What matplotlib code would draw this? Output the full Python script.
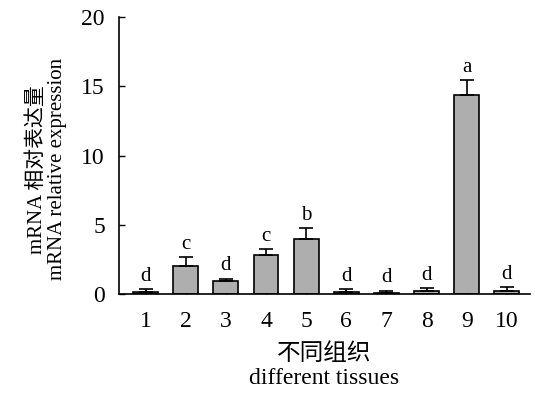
import matplotlib
matplotlib.use("Agg")
import matplotlib.pyplot as plt
import numpy as np

plt.rcParams['font.family'] = ['Liberation Serif', 'Noto Sans CJK SC']

categories = ['1', '2', '3', '4', '5', '6', '7', '8', '9', '10']
values = [0.15, 2.05, 0.95, 2.8, 3.95, 0.15, 0.1, 0.2, 14.35, 0.25]
errors = [0.2, 0.6, 0.15, 0.45, 0.8, 0.2, 0.15, 0.2, 1.1, 0.25]
letters = ['d', 'c', 'd', 'c', 'b', 'd', 'd', 'd', 'a', 'd']

fig = plt.figure(figsize=(5.35, 4.0), dpi=100)
ax = fig.add_axes([0.222, 0.265, 0.768, 0.6925])

x = np.arange(1, len(categories) + 1)
ax.bar(x, values, width=0.62, color='#aeaeae', edgecolor='black', linewidth=1.2, zorder=2)
ax.errorbar(x, values, yerr=[np.zeros(len(errors)), errors], fmt='none',
            ecolor='black', elinewidth=1.2, capsize=5, capthick=1.2, zorder=3)
for xi, v, e, l in zip(x, values, errors, letters):
    ax.text(xi, v + e + 0.25, l, ha='center', va='bottom', fontsize=15)

ax.set_xlim(0.33, 10.57)
ax.set_ylim(0, 20)
ax.set_yticks([0, 5, 10, 15, 20])
ax.set_xticks(x)
ax.set_xticklabels(categories)
ax.tick_params(direction='in', labelsize=17, length=4, width=1.0)
ax.tick_params(axis='y', pad=10)
ax.tick_params(axis='x', length=3, pad=12)
for s in ['top', 'right']:
    ax.spines[s].set_visible(False)
for s in ['left', 'bottom']:
    ax.spines[s].set_linewidth(1.2)

ax.set_ylabel('mRNA 相对表达量\nmRNA relative expression', fontsize=15, linespacing=1.1)
ax.yaxis.set_label_coords(-0.125, 0.45)
ax.set_xlabel('不同组织\ndifferent tissues', fontsize=17, linespacing=1.2, labelpad=8)

fig.savefig('out.png', dpi=100)
